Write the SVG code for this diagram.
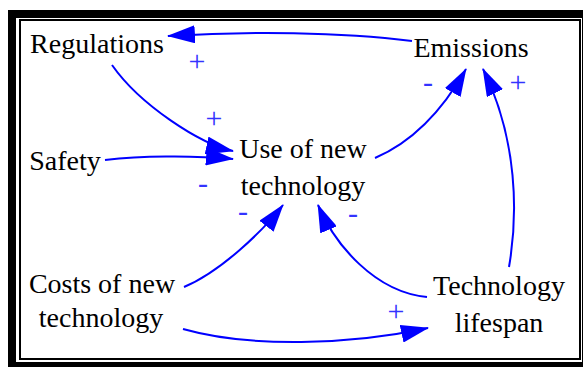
<svg xmlns="http://www.w3.org/2000/svg" width="583" height="367" viewBox="0 0 583 367">
  <defs>
    <marker id="arrow" viewBox="0 0 28 18" markerWidth="28" markerHeight="18" refX="27" refY="9" orient="auto" markerUnits="userSpaceOnUse">
      <path d="M0,0 L28,9 L0,18 Z" fill="#0000FF"/>
    </marker>
  </defs>
  <style>
    text { font-family: "Liberation Serif", "DejaVu Serif", serif; }
    .node { font-size: 28px; fill: #000; text-anchor: middle; }
    .link { fill: none; stroke: #0000FF; stroke-width: 2; marker-end: url(#arrow); }
    .pol { font-size: 30px; fill: #3333FF; text-anchor: middle; }
  </style>

  <!-- frame: thick outer band, thin inner rule -->
  <rect x="8" y="10" width="575" height="357" fill="#000"/>
  <rect x="16" y="18" width="566" height="344" fill="#fff"/>
  <rect x="20" y="20" width="560" height="339" fill="none" stroke="#000" stroke-width="2"/>

  <g id="connectors">
    <path class="link" d="M412,41 C340,32 250,31 168,36"/>
    <path class="link" d="M112,65 C140,105 200,144 233,151"/>
    <path class="link" d="M105,160 C140,156 190,155 233,159"/>
    <path class="link" d="M375,158 C410,143 440,115 466,69"/>
    <path class="link" d="M509,267 C518,215 518,140 483,69"/>
    <path class="link" d="M184,287 C220,272 262,232 283,205"/>
    <path class="link" d="M427,297 C375,292 335,245 318,205"/>
    <path class="link" d="M183,329 C250,348 350,345 428,328"/>
  </g>

  <g id="polarities">
    <text class="pol" x="197" y="71">+</text>
    <text class="pol" x="214" y="128">+</text>
    <text class="pol" x="203" y="193">-</text>
    <text class="pol" x="428" y="92">-</text>
    <text class="pol" x="518" y="92">+</text>
    <text class="pol" x="243" y="221">-</text>
    <text class="pol" x="353" y="223">-</text>
    <text class="pol" x="396" y="321">+</text>
  </g>

  <g id="regulations"><text class="node" x="97" y="53">Regulations</text></g>
  <g id="emissions"><text class="node" x="471" y="57">Emissions</text></g>
  <g id="safety"><text class="node" x="65" y="170">Safety</text></g>
  <g id="use-of-new-technology">
    <text class="node" x="303" y="158">Use of new</text>
    <text class="node" x="303" y="195">technology</text>
  </g>
  <g id="costs-of-new-technology">
    <text class="node" x="102" y="293">Costs of new</text>
    <text class="node" x="101" y="327">technology</text>
  </g>
  <g id="technology-lifespan">
    <text class="node" x="499" y="295">Technology</text>
    <text class="node" x="499" y="332">lifespan</text>
  </g>
</svg>
